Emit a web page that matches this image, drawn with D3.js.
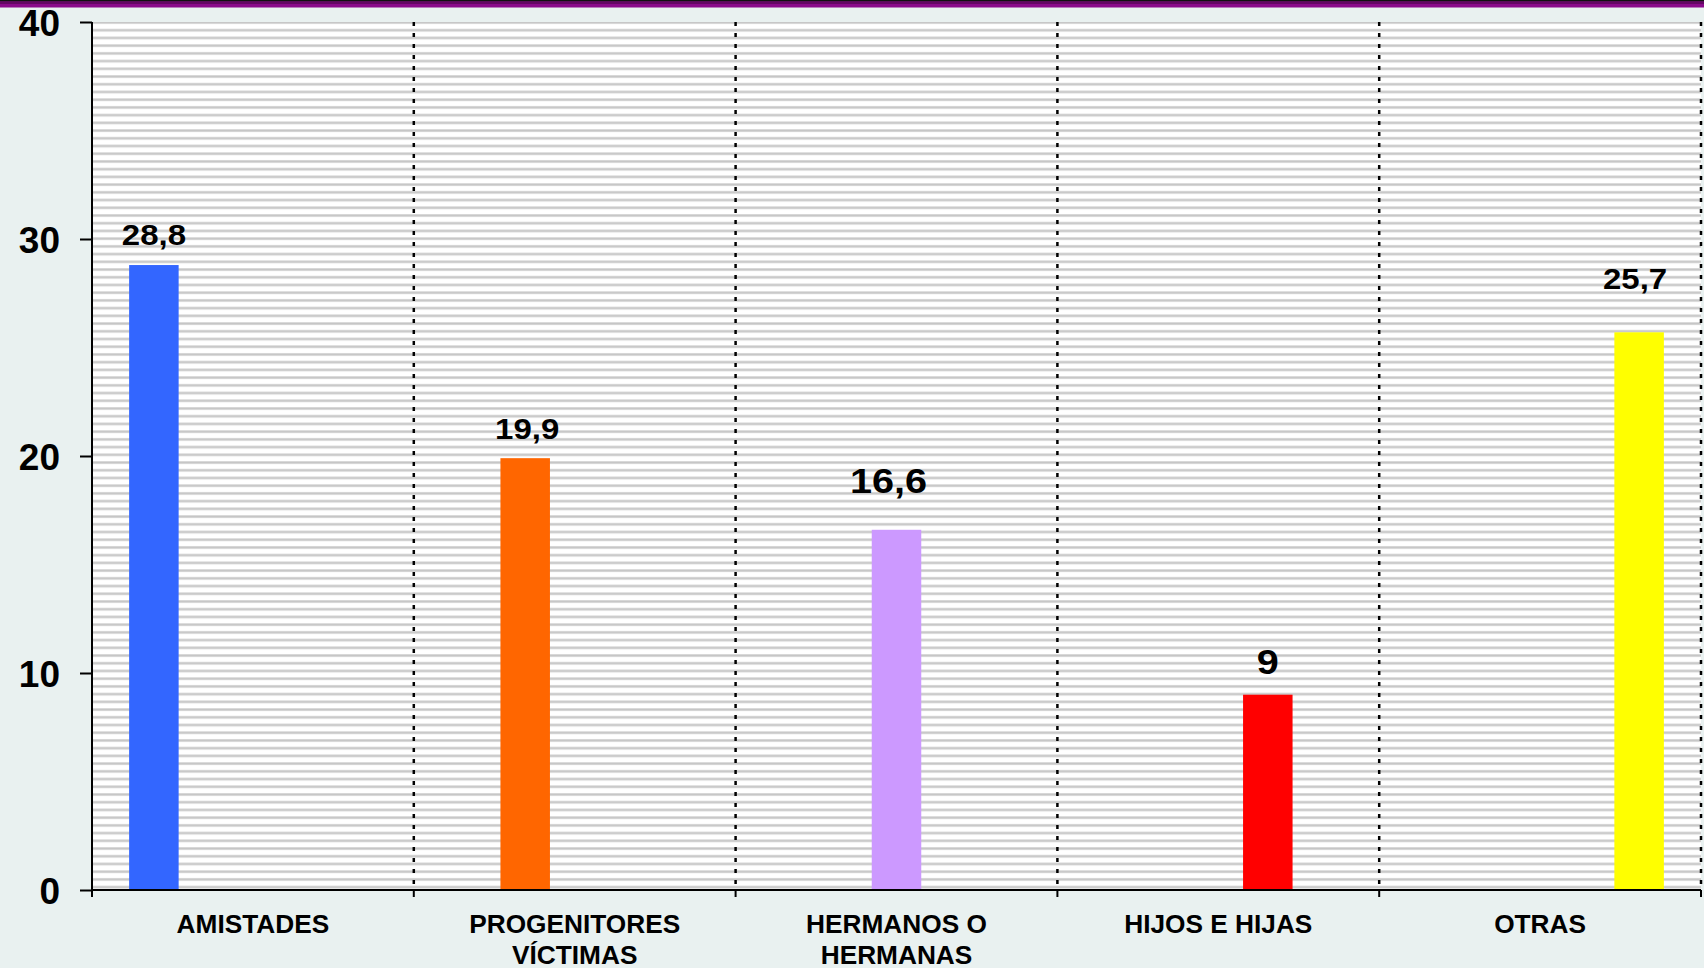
<!doctype html>
<html lang="es">
  <head>
    <meta charset="utf-8">
    <title>Relación con la víctima</title>
    <style>
      body { margin: 0; background: #e9f1f0; }
      svg { display: block; font-family: Arial, "Liberation Sans", sans-serif; font-weight: bold; }
    </style>
  </head>
  <body>
    <script src="https://cdnjs.cloudflare.com/ajax/libs/d3/7.8.5/d3.min.js"></script>
    <script>

    // data
    var categories = ["AMISTADES", "PROGENITORES VÍCTIMAS", "HERMANOS O HERMANAS", "HIJOS E HIJAS", "OTRAS"];
    var labelLines = [["AMISTADES"], ["PROGENITORES", "VÍCTIMAS"], ["HERMANOS O", "HERMANAS"], ["HIJOS E HIJAS"], ["OTRAS"]];
    var values = [28.8, 19.9, 16.6, 9, 25.7];
    var colors = ["#3366ff", "#ff6600", "#cc99ff", "#ff0000", "#ffff00"];
    var yTicks = [0, 10, 20, 30, 40];

    // hand-placed data labels (as in the original)
    var labelStyle = [
      {dx: 0, dy: -20, size: 30},
      {dx: 2, dy: -19, size: 30},
      {dx: -8, dy: -37, size: 36},
      {dx: 0, dy: -21, size: 36},
      {dx: -4, dy: -43, size: 30}
    ];

    var W = 1704, H = 968;
    var margin = {top: 22, right: 3, bottom: 78, left: 92};

    var svg = d3.select("body").append("svg")
      .attr("width", W)
      .attr("height", H);

    var y = d3.scaleLinear()
      .domain([0, 40])
      .range([H - margin.bottom, margin.top]);

    var x = d3.scaleBand()
      .domain(categories)
      .range([margin.left, W - margin.right])
      .padding(0);

    // one slot per series inside each category (clustered, gap 150%)
    var slot = d3.scaleBand()
      .domain(categories)
      .range([0, x.bandwidth()])
      .paddingInner(0)
      .paddingOuter(0.75);

    // striped plot background
    var defs = svg.append("defs");
    var pat = defs.append("pattern")
      .attr("id", "stripes")
      .attr("patternUnits", "userSpaceOnUse")
      .attr("x", 0).attr("y", margin.top - 1)
      .attr("width", 10).attr("height", 7.72);
    pat.append("rect").attr("width", 10).attr("height", 7.72).attr("fill", "#ffffff");
    pat.append("rect").attr("y", 0).attr("width", 10).attr("height", 3).attr("fill", "#dedede");
    pat.append("rect").attr("y", 0.7).attr("width", 10).attr("height", 1.6).attr("fill", "#c6c6c6");

    svg.append("rect")
      .attr("x", margin.left)
      .attr("y", margin.top)
      .attr("width", W - margin.right - margin.left)
      .attr("height", y(0) - margin.top)
      .attr("fill", "url(#stripes)");

    // top border
    svg.append("rect").attr("x", 0).attr("y", 0).attr("width", W).attr("height", 7.5).attr("fill", "#8a0a8a");
    svg.append("rect").attr("x", 0).attr("y", 0).attr("width", W).attr("height", 1.4).attr("fill", "#111");
    svg.append("rect").attr("x", 0).attr("y", 2.6).attr("width", W).attr("height", 0.8).attr("fill", "#2a002a");

    // dotted separators between categories
    var bounds = categories.slice(1).map(function(c){ return x(c); }).concat([x.range()[1]]);
    svg.selectAll(".sep")
      .data(bounds)
      .enter()
      .append("line")
      .attr("class", "sep")
      .attr("x1", function(d){ return d; })
      .attr("x2", function(d){ return d; })
      .attr("y1", margin.top)
      .attr("y2", y(0))
      .attr("stroke", "#000")
      .attr("stroke-width", 2.5)
      .attr("stroke-dasharray", "4,7");

    // bars
    svg.selectAll(".bar")
      .data(values)
      .enter()
      .append("rect")
      .attr("class", "bar")
      .attr("x", function(d, i){ return x(categories[i]) + slot(categories[i]); })
      .attr("y", function(d){ return y(d); })
      .attr("width", slot.bandwidth())
      .attr("height", function(d){ return y(0) - y(d); })
      .attr("fill", function(d, i){ return colors[i]; });

    // value labels (original text is a little stretched sideways)
    svg.selectAll(".val")
      .data(values)
      .enter()
      .append("text")
      .attr("class", "val")
      .attr("transform", function(d, i){
        var cx = x(categories[i]) + slot(categories[i]) + slot.bandwidth() / 2 + labelStyle[i].dx;
        return "translate(" + cx + "," + (y(d) + labelStyle[i].dy) + ") scale(1.1,1)";
      })
      .attr("text-anchor", "middle")
      .style("font-size", function(d, i){ return labelStyle[i].size + "px"; })
      .attr("fill", "#000")
      .text(function(d){ return String(d).replace(".", ","); });

    // y axis
    var yAxis = svg.append("g")
      .attr("transform", "translate(" + margin.left + ",0)")
      .call(d3.axisLeft(y).tickValues(yTicks).tickSize(12).tickPadding(20).tickSizeOuter(0));
    yAxis.select(".domain").attr("stroke", "#000").attr("stroke-width", 2)
      .attr("d", "M0," + margin.top + "V" + (y(0) + 7));
    yAxis.selectAll(".tick line").attr("stroke", "#000").attr("stroke-width", 2);
    yAxis.selectAll(".tick text")
      .attr("fill", "#000")
      .style("font-size", "37px")
      .style("font-weight", "bold")
      .style("font-family", "Arial, 'Liberation Sans', sans-serif")
      .attr("dy", "0.36em");

    // x axis line and boundary ticks
    svg.append("line")
      .attr("x1", margin.left).attr("x2", x.range()[1])
      .attr("y1", y(0)).attr("y2", y(0))
      .attr("stroke", "#000").attr("stroke-width", 2);

    svg.selectAll(".xtick")
      .data(bounds)
      .enter()
      .append("line")
      .attr("class", "xtick")
      .attr("x1", function(d){ return d; })
      .attr("x2", function(d){ return d; })
      .attr("y1", y(0))
      .attr("y2", y(0) + 7)
      .attr("stroke", "#000")
      .attr("stroke-width", 2);

    // category labels
    var cat = svg.selectAll(".cat")
      .data(categories)
      .enter()
      .append("text")
      .attr("class", "cat")
      .attr("text-anchor", "middle")
      .attr("fill", "#000")
      .attr("transform", function(d){ return "translate(" + (x(d) + x.bandwidth() / 2) + "," + (y(0) + 43) + ") scale(1.05,1)"; })
      .style("font-size", "25px");

    cat.selectAll("tspan")
      .data(function(d, i){ return labelLines[i]; })
      .enter()
      .append("tspan")
      .attr("x", 0)
      .attr("y", function(d, j){ return j * 31; })
      .text(function(d){ return d; });

    </script>
  </body>
</html>
